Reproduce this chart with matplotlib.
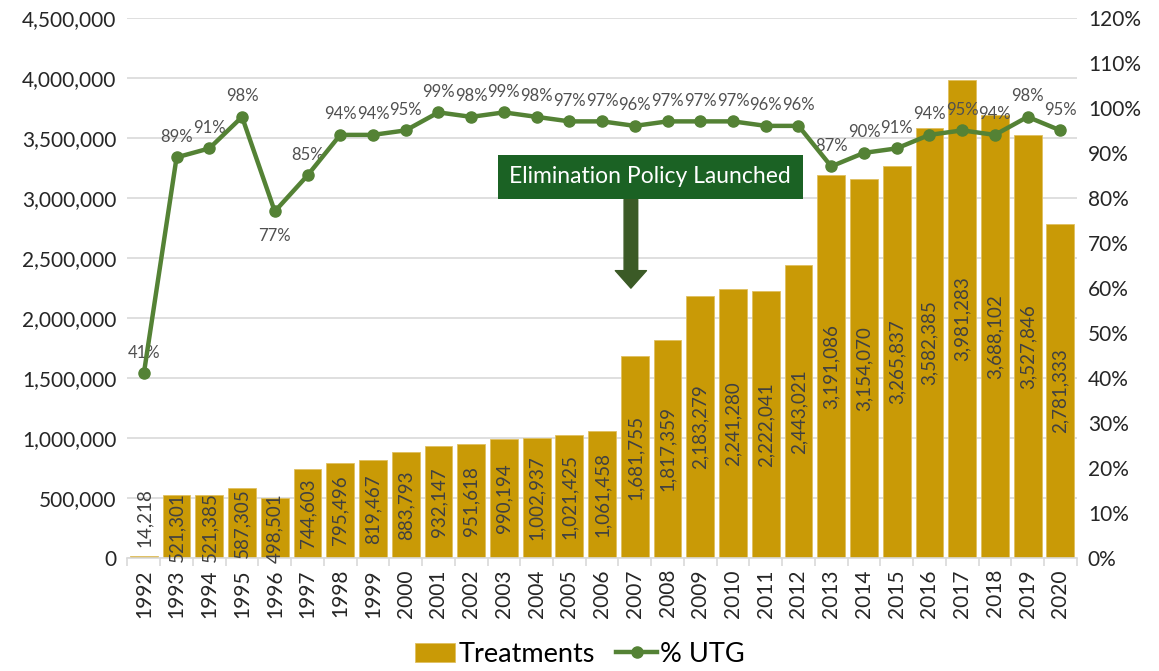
from matplotlib import pyplot as plt
from matplotlib.ticker import FuncFormatter, MultipleLocator
import numpy as np

plt.rcParams['font.family'] = ['Lato', 'DejaVu Sans']

years = [str(y) for y in range(1992, 2021)]
treatments = [14218, 521301, 521385, 587305, 498501, 744603, 795496, 819467, 883793,
              932147, 951618, 990194, 1002937, 1021425, 1061458, 1681755, 1817359,
              2183279, 2241280, 2222041, 2443021, 3191086, 3154070, 3265837, 3582385,
              3981283, 3688102, 3527846, 2781333]
utg = [41, 89, 91, 98, 77, 85, 94, 94, 95, 99, 98, 99, 98, 97, 97, 96, 97, 97, 97,
       96, 96, 87, 90, 91, 94, 95, 94, 98, 95]

bar_col = '#C99A06'
line_col = '#548235'

fig = plt.figure(figsize=(11.59, 6.71), dpi=100)
ax = fig.add_axes([0.110, 0.1684, 0.819, 0.805])
x = np.arange(len(years))

bars = ax.bar(x, treatments, width=0.85, color=bar_col, edgecolor='#E0C060',
              linewidth=0.6, label='Treatments', zorder=2)
ax.set_ylim(0, 4500000)
ax.set_xlim(-0.5, len(years) - 0.5)
ax.yaxis.set_major_locator(MultipleLocator(500000))
ax.yaxis.set_major_formatter(FuncFormatter(lambda v, p: '{:,.0f}'.format(v)))
ax.grid(axis='y', color='#D9D9D9', linewidth=1.2, zorder=0)
ax.set_axisbelow(True)
for s in ['top', 'right', 'left']:
    ax.spines[s].set_visible(False)
ax.spines['bottom'].set_color('#D9D9D9')
ax.spines['bottom'].set_linewidth(1.2)
ax.set_xticks(x)
ax.set_xticklabels(years, rotation=90, fontsize=15, color='#262626')
ax.set_xticks(np.arange(-0.5, len(years), 1), minor=True)
ax.tick_params(axis='x', which='major', length=0, pad=8)
ax.tick_params(axis='x', which='minor', length=6, color='#D9D9D9', width=1.2)
ax.tick_params(axis='y', length=0, labelsize=15, labelcolor='#262626', pad=8)

# bar labels in the middle of each bar
for i, v in enumerate(treatments):
    if v < 200000:
        ax.text(i, v + 80000, '{:,}'.format(v), rotation=90, ha='center', va='bottom',
                fontsize=13.5, color='#404040', zorder=3)
    else:
        ax.text(i, v / 2, '{:,}'.format(v), rotation=90, ha='center', va='center',
                fontsize=13.5, color='#404040', zorder=3)

ax2 = ax.twinx()
ax2.plot(x, np.array(utg) / 100, color=line_col, linewidth=3.2, marker='o',
         markersize=8, label='% UTG', zorder=4)
ax2.set_ylim(0, 1.2)
ax2.yaxis.set_major_locator(MultipleLocator(0.1))
ax2.yaxis.set_major_formatter(FuncFormatter(lambda v, p: '{:.0f}%'.format(v * 100)))
ax2.tick_params(axis='y', length=0, labelsize=15, labelcolor='#262626', pad=8)
for s in ax2.spines.values():
    s.set_visible(False)
for i, u in enumerate(utg):
    if u == 77:
        ax2.annotate('{}%'.format(u), (i, u / 100), xytext=(0, -12), textcoords='offset points',
                     ha='center', va='top', fontsize=12, color='#505050')
    else:
        ax2.annotate('{}%'.format(u), (i, u / 100), xytext=(0, 9), textcoords='offset points',
                     ha='center', va='bottom', fontsize=12, color='#505050')

# annotation
ax.annotate('', xy=(14.88, 2225000), xytext=(14.88, 3010000),
            arrowprops=dict(arrowstyle='simple,head_width=1.6,head_length=0.9,tail_width=0.7',
                            color='#3B5A26', mutation_scale=14), zorder=5)
ax.text(15.47, 3175000, 'Elimination Policy Launched', ha='center', va='center',
        fontsize=16.5, color='white', zorder=6,
        bbox=dict(boxstyle='square,pad=0.5', facecolor='#1B6224', edgecolor='none'))

h1, l1 = ax.get_legend_handles_labels()
h2, l2 = ax2.get_legend_handles_labels()
fig.legend(h1 + h2, l1 + l2, loc='center', bbox_to_anchor=(0.5, 0.025), ncol=2,
           frameon=False, fontsize=19.5, handlelength=1.5, handletextpad=0.1, columnspacing=0.8)

fig.savefig('out.png', dpi=100)
